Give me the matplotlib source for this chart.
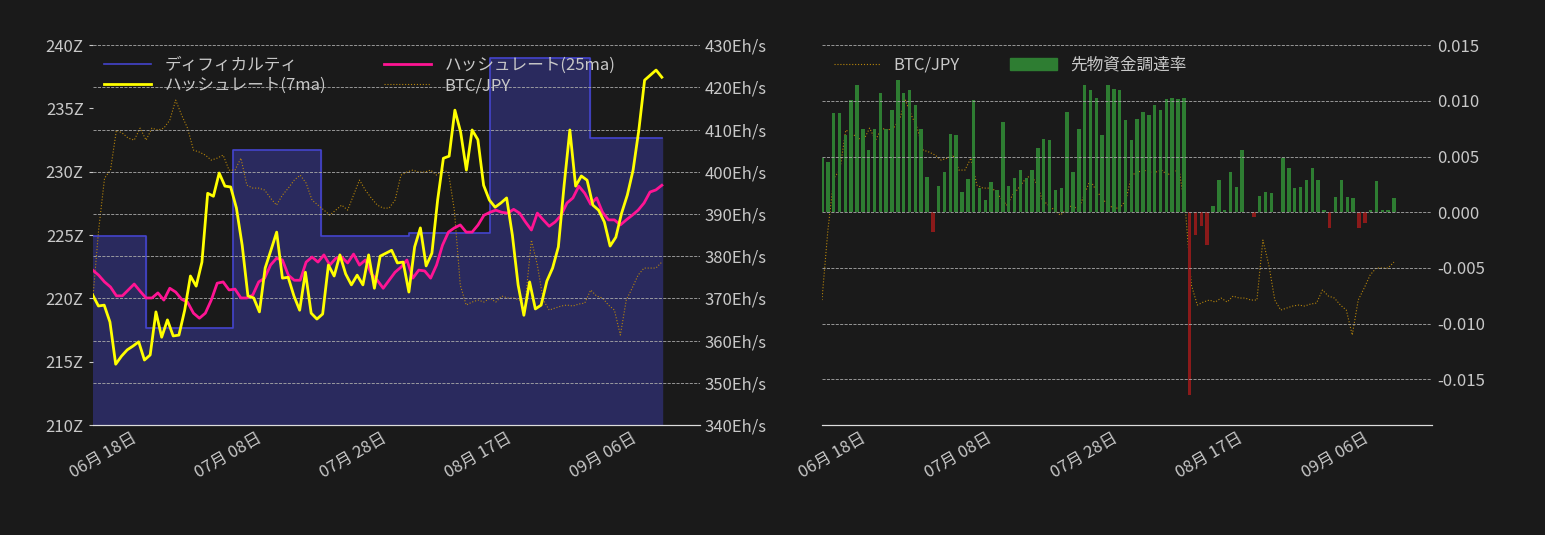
import matplotlib
matplotlib.use("Agg")
import matplotlib.pyplot as plt
import matplotlib.dates as mdates
import numpy as np
import pandas as pd
from matplotlib.lines import Line2D
from matplotlib.patches import Patch

plt.rcParams['font.family'] = ['Noto Sans CJK JP', 'DejaVu Sans']

# difficulty steps (Z) : change dates and values
diff_dates = ["2023-06-10 12:00", "2023-06-19 00:00", "2023-07-03 00:00", "2023-07-17 00:00", "2023-07-31 00:00",
              "2023-08-13 00:00", "2023-08-29 00:00", "2023-09-09 12:00"]
diff_vals = [224.9, 217.7, 231.7, 224.9, 225.2, 239.0, 232.7, 232.7]

hr7 = [370.8, 368.2, 368.4, 364.4, 354.4, 356.3, 357.8, 358.7, 359.7, 355.4, 356.6, 366.8, 360.8, 364.9, 361.1,
       361.3, 367.2, 375.3, 372.9, 378.6, 394.9, 394.2, 399.7, 396.6, 396.4, 391.4, 382.6, 370.6, 370.1, 366.8,
       377.2, 381.4, 385.7, 374.8, 375.0, 370.6, 367.2, 376.2, 366.5, 365.1, 366.3, 377.9, 375.3, 380.3, 375.8,
       373.2, 375.5, 373.2, 380.3, 372.4, 380.0, 380.7, 381.4, 378.4, 378.6, 371.5, 382.2, 386.7, 377.7, 380.7,
       393.3, 403.2, 403.7, 414.6, 409.4, 400.4, 409.9, 407.6, 396.8, 393.3, 391.6, 392.6, 393.8, 385.0, 373.2,
       366.0, 373.9, 367.5, 368.4, 374.1, 377.2, 382.2, 396.8, 409.9, 396.6, 399.0, 398.0, 392.1, 390.9, 388.1,
       382.4, 384.5, 390.2, 394.5, 400.4, 409.9, 421.7, 422.9, 424.1, 422.4]

hr25 = [376.7, 375.5, 373.9, 372.7, 370.6, 370.6, 372.0, 373.4, 371.7, 370.1, 370.1, 371.3, 369.6, 372.4, 371.5,
        369.8, 369.1, 366.5, 365.3, 366.5, 369.6, 373.6, 373.9, 372.0, 372.2, 370.1, 370.1, 370.8, 373.9, 374.8,
        377.9, 379.5, 379.1, 375.5, 374.3, 374.3, 378.6, 379.8, 378.6, 380.3, 377.9, 379.5, 379.8, 378.4, 380.5,
        377.9, 379.1, 375.8, 374.3, 372.4, 374.3, 376.2, 377.4, 379.1, 374.8, 376.7, 376.5, 374.8, 377.9, 382.6,
        385.7, 386.7, 387.4, 385.7, 385.7, 387.4, 389.7, 390.4, 390.9, 390.4, 390.2, 391.1, 390.2, 388.1, 386.2,
        390.2, 388.6, 387.1, 388.1, 389.7, 392.6, 393.8, 396.6, 394.9, 392.3, 393.8, 390.4, 388.6, 388.6, 387.4,
        388.6, 389.7, 390.9, 392.6, 395.2, 395.7, 396.8]

btc = [399, 413, 423.4, 425, 433, 432.4, 431.4, 431, 433.4, 431, 433.4, 433, 433.4, 435, 439, 436, 433.4, 429,
       428.6, 428, 427, 427.4, 428, 425, 425, 427.4, 422, 421.4, 421.4, 421, 419.4, 418, 420, 421.4, 423, 424,
       422.4, 419, 418, 417, 416, 417, 418, 417, 420, 423, 421, 419.4, 418, 417.4, 417.4, 419, 424, 424.6, 425,
       424.6, 424.6, 425, 424, 425, 424.6, 417, 402, 398, 398.6, 399, 398.6, 399.4, 398.6, 399.8, 399.4, 399.4,
       399, 399, 411, 406, 399, 397, 397.4, 397.8, 398, 397.8, 398.2, 398.4, 401, 399.8, 399.4, 398, 397, 392,
       399, 401.4, 404, 405.4, 405.4, 405.4, 406.6]

funding = [0.0049, 0.0045, 0.0089, 0.0089, 0.0069, 0.0101, 0.0114, 0.0075, 0.0056, 0.0075, 0.0107, 0.0075,
           0.0092, 0.0119, 0.0107, 0.0110, 0.0096, 0.0075, 0.0032, -0.0018, 0.0024, 0.0036, 0.0070, 0.0069,
           0.0018, 0.0030, 0.0101, 0.0022, 0.0011, 0.0027, 0.0020, 0.0081, 0.0024, 0.0031, 0.0038, 0.0031,
           0.0038, 0.0058, 0.0066, 0.0065, 0.0020, 0.0022, 0.0090, 0.0036, 0.0075, 0.0114, 0.0110, 0.0103,
           0.0069, 0.0114, 0.0111, 0.0110, 0.0083, 0.0065, 0.0084, 0.0090, 0.0087, 0.0096, 0.0092, 0.0102,
           0.0103, 0.0102, 0.0103, -0.0164, -0.0020, -0.0012, -0.0029, 0.0006, 0.0029, 0.0002, 0.0036,
           0.0023, 0.0056, 0.0000, -0.0004, 0.0015, 0.0018, 0.0017, 0.0000, 0.0049, 0.0040, 0.0022, 0.0023,
           0.0029, 0.0040, 0.0029, 0.0002, -0.0014, 0.0014, 0.0029, 0.0014, 0.0013, -0.0014, -0.0010, 0.0002,
           0.0028, 0.0002, 0.0002, 0.0013]

START, END = "2023-06-10 12:00", "2023-09-09 12:00"
def span(n):
    return pd.date_range(START, END, periods=n)

BG = "#1a1a1a"
TXT = "#c8c8c8"
fig = plt.figure(figsize=(15.45, 5.35), dpi=100, facecolor=BG)
xlim = (mdates.date2num(pd.Timestamp("2023-06-10 12:00")), mdates.date2num(pd.Timestamp("2023-09-15 14:00")))
ticks = pd.date_range("2023-06-18", periods=5, freq="20D")

def style_x(ax):
    ax.set_facecolor(BG)
    ax.set_xlim(*xlim)
    ax.set_xticks(ticks)
    ax.xaxis.set_major_formatter(mdates.DateFormatter("%m月 %d日"))
    for lab in ax.get_xticklabels():
        lab.set_rotation(30); lab.set_ha("right")
    ax.tick_params(axis="x", colors=TXT, labelsize=12, length=0)
    for s in ["top", "left", "right"]:
        ax.spines[s].set_visible(False)
    ax.spines["bottom"].set_color("#dddddd")

# ---------- left panel ----------
ax1 = fig.add_axes([0.060, 0.2056, 0.393, 0.710])
style_x(ax1)
dd = pd.to_datetime(diff_dates, format="%Y-%m-%d %H:%M")
ax1.fill_between(dd, diff_vals, 210, step="post", color="#2a2a5e", zorder=1)
ax1.step(dd, diff_vals, where="post", color="#4444cc", lw=1.2, zorder=2)
ax1.set_ylim(210, 240)
ax1.set_yticks(np.arange(210, 241, 5))
ax1.set_yticklabels([f"{v}Z" for v in range(210, 241, 5)])
ax1.tick_params(axis="y", colors=TXT, labelsize=12, length=3)

ax1b = ax1.twinx()
ax1b.set_xlim(*xlim)
ax1b.set_ylim(374, 450)
ax1b.plot(span(len(btc)), btc, color="#b8860b", lw=0.8, ls=":")
ax1b.axis("off")

ax1c = ax1.twinx()
ax1c.set_xlim(*xlim)
ax1c.plot(span(len(hr25)), hr25, color="#ff1493", lw=2)
ax1c.plot(span(len(hr7)), hr7, color="#ffff00", lw=2)
ax1c.set_ylim(340, 430)
ax1c.set_yticks(np.arange(340, 431, 10))
ax1c.set_yticklabels([f"{v}Eh/s" for v in range(340, 431, 10)])
ax1c.tick_params(axis="y", colors=TXT, labelsize=12, length=0)
ax1c.grid(axis="y", color="#aaaaaa", ls="--", lw=0.6)
for s in ax1c.spines.values():
    s.set_visible(False)
ax1c.spines["bottom"].set_visible(True); ax1c.spines["bottom"].set_color("#dddddd")

h = [Line2D([], [], color="#4444cc", lw=1.2), Line2D([], [], color="#ffff00", lw=2),
     Line2D([], [], color="#ff1493", lw=2), Line2D([], [], color="#b8860b", lw=0.8, ls=":")]
l = ["ディフィカルティ", "ハッシュレート(7ma)", "ハッシュレート(25ma)", "BTC/JPY"]
ax1c.legend(h, l, ncol=2, loc="upper left", frameon=False, labelcolor=TXT, fontsize=12,
            bbox_to_anchor=(0.0, 1.0), columnspacing=3.5, handlelength=2.8, borderaxespad=0.3, labelspacing=0.2)

# ---------- right panel ----------
ax2 = fig.add_axes([0.532, 0.2056, 0.395, 0.710])
style_x(ax2)
ax2.set_ylim(374, 450)
ax2.plot(span(len(btc)), btc, color="#b8860b", lw=0.8, ls=":")
ax2.set_yticks([])

ax2b = ax2.twinx()
ax2b.set_xlim(*xlim)
fd = span(len(funding))
cols = ["#2e7d32" if v >= 0 else "#8b1a1a" for v in funding]
ax2b.bar(fd, funding, width=0.55, color=cols)
ax2b.set_ylim(-0.0191, 0.0150)
ax2b.set_yticks([-0.015, -0.010, -0.005, 0.0, 0.005, 0.010, 0.015])
ax2b.set_yticklabels(["-0.015", "-0.010", "-0.005", "0.000", "0.005", "0.010", "0.015"])
ax2b.tick_params(axis="y", colors=TXT, labelsize=12, length=0)
ax2b.grid(axis="y", color="#aaaaaa", ls="--", lw=0.6)
for s in ax2b.spines.values():
    s.set_visible(False)
ax2b.spines["bottom"].set_visible(True); ax2b.spines["bottom"].set_color("#dddddd")
h2 = [Line2D([], [], color="#b8860b", lw=0.8, ls=":"), Patch(color="#2e7d32")]
ax2b.legend(h2, ["BTC/JPY", "先物資金調達率"], ncol=2, loc="upper left", frameon=False, labelcolor=TXT,
            fontsize=12, columnspacing=3, handlelength=2.8, borderaxespad=0.3)

fig.savefig("out.png", dpi=100, facecolor=BG)
